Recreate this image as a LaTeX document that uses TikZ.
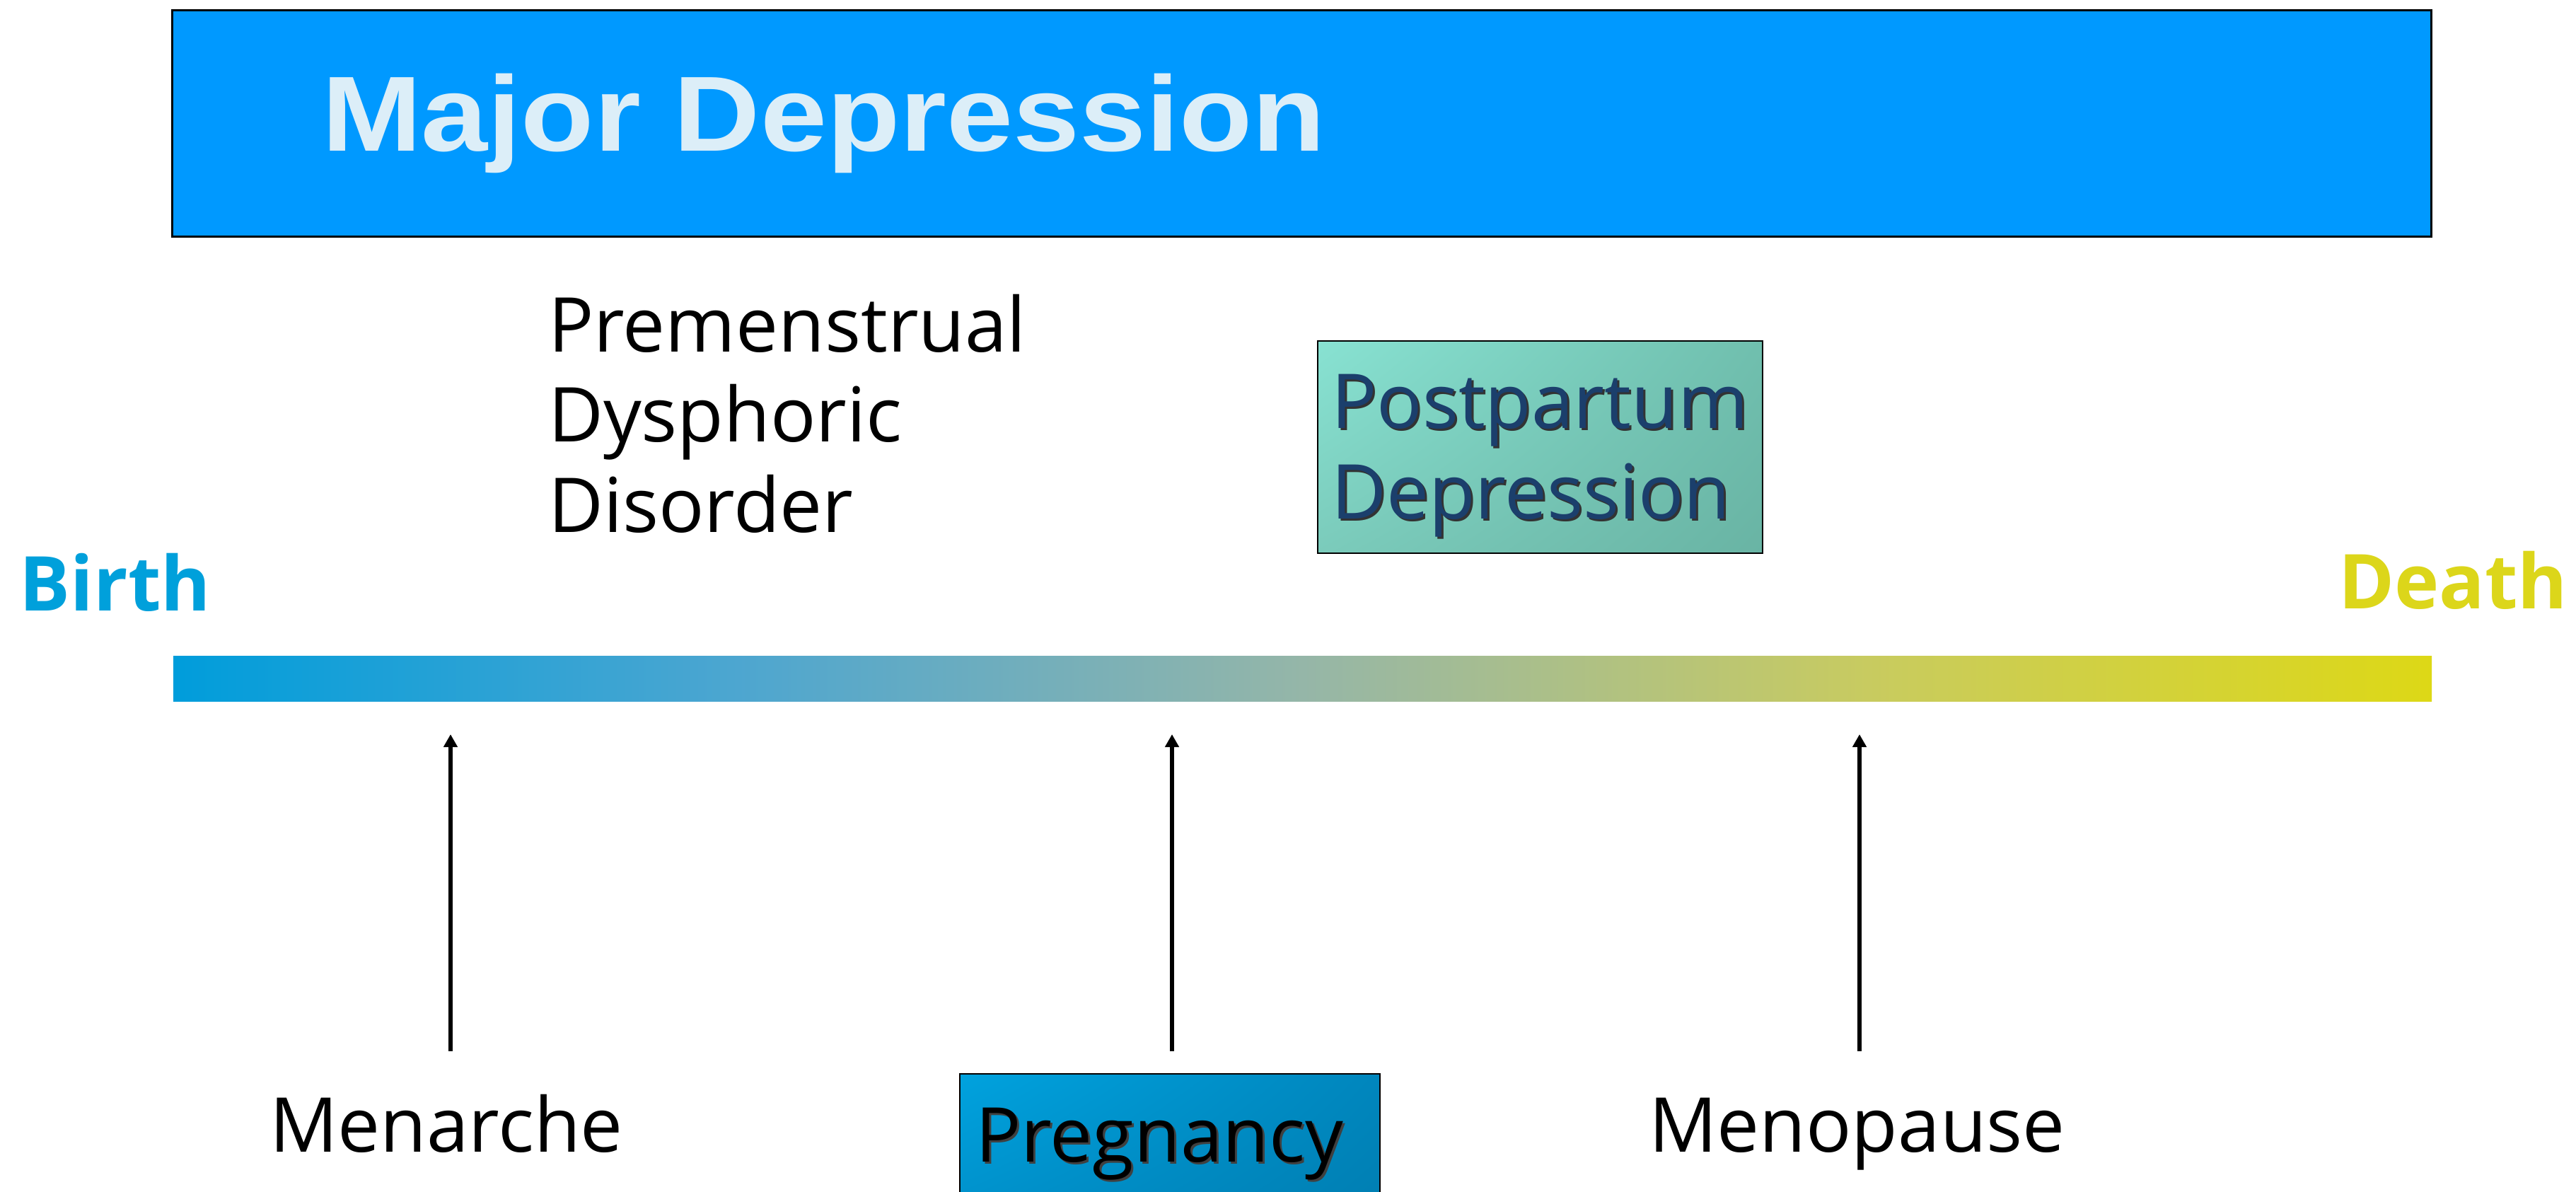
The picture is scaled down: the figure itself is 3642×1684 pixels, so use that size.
\documentclass[tikz,border=0pt]{standalone}
\usepackage{fontspec}
\setmainfont{Open Sans}
\newfontfamily\mdfont{Liberation Sans}[FakeStretch=1.12]
\usetikzlibrary{arrows.meta,shadings}
\definecolor{mdblue}{HTML}{0099FF}
\definecolor{mdtext}{HTML}{DCEEF8}
\definecolor{birthc}{HTML}{00A0DB}
\definecolor{deathc}{HTML}{DCD61A}
\definecolor{ppdtext}{HTML}{1B3F6C}
\definecolor{barA}{HTML}{009DDB}
\definecolor{barB}{HTML}{4DA6D0}
\definecolor{barC}{HTML}{95B6A8}
\definecolor{barD}{HTML}{C8CB60}
\definecolor{barE}{HTML}{DDD816}
\definecolor{ppdUL}{HTML}{88E2D2}
\definecolor{ppdUR}{HTML}{70BFAE}
\definecolor{ppdLL}{HTML}{7BCBBB}
\definecolor{ppdLR}{HTML}{69B4A4}
\definecolor{prgUL}{HTML}{00A2DE}
\definecolor{prgUR}{HTML}{0086BD}
\definecolor{prgLL}{HTML}{0092CC}
\definecolor{prgLR}{HTML}{007FB3}
\pgfdeclarehorizontalshading{lifebar}{100bp}{color(0bp)=(barA); color(25bp)=(barA); color(37.5bp)=(barB); color(50bp)=(barC); color(62.5bp)=(barD); color(75bp)=(barE); color(100bp)=(barE)}
\newcommand\shadowed[3]{\makebox[0pt][l]{\kern0.6pt\raisebox{-0.7pt}{\color{#2}#3}}{\color{#1}#3}}
\begin{document}
\begin{tikzpicture}[x=0.2pt,y=-0.2pt,
  every node/.style={inner sep=0pt, outer sep=0pt},
  plain/.style={font=\fontsize{21.4pt}{25.6pt}\selectfont, anchor=base west, align=left, text=black},
  endlabel/.style={font=\fontsize{21.4pt}{25pt}\selectfont\bfseries, anchor=base west},
  upar/.style={line width=1.25pt, -{Triangle[length=3.6pt,width=3.8pt]}},
  ]
\useasboundingbox (0,0) rectangle (3642,1684);
\fill[white] (0,0) rectangle (3642,1684);
\clip (0,0) rectangle (3642,1684);

% Major depression band
\node[draw=black, line width=0.6pt, fill=mdblue, minimum width=638.8pt, minimum height=64pt, anchor=north west] (mdbox) at (243,14) {};
\node[font=\mdfont\fontsize{30.2pt}{36pt}\selectfont\bfseries, text=mdtext, anchor=base west] (mdtitle) at (455,213) {Major Depression};

% PMDD (base anchor = last line)
\node[plain, font=\fontsize{21.4pt}{25.5pt}\selectfont] (pmdd) at (775,752) {Premenstrual\\Dysphoric\\Disorder};

% Postpartum depression
\node[draw=black, line width=0.45pt, upper left=ppdUL, upper right=ppdUR, lower left=ppdLL, lower right=ppdLR, minimum width=125.8pt, minimum height=60pt, anchor=north west] (ppdbox) at (1863,482) {};
\node[plain] (ppd) at (1882,733) {\shadowed{ppdtext}{black!80}{Postpartum}\\\shadowed{ppdtext}{black!80}{Depression}};

% Birth / Death
\node[endlabel, text=birthc] (birth) at (28,863) {Birth};
\node[endlabel, text=deathc] (death) at (3306,860) {Death};

% life bar
\node[shade, shading=lifebar, minimum width=638.6pt, minimum height=12.8pt, anchor=north west] (life) at (245,927) {};

% arrows
\coordinate (a1s) at (637,1486); \coordinate (a1e) at (637,1038);
\coordinate (a2s) at (1657,1486); \coordinate (a2e) at (1657,1038);
\coordinate (a3s) at (2629,1486); \coordinate (a3e) at (2629,1038);
\draw[upar] (a1s) -- (a1e);
\draw[upar] (a2s) -- (a2e);
\draw[upar] (a3s) -- (a3e);

% bottom labels
\node[plain] (menarche) at (381,1628) {Menarche};
\node[plain] (menopause) at (2331,1628) {Menopause};

\node[draw=black, line width=0.45pt, upper left=prgUL, upper right=prgUR, lower left=prgLL, lower right=prgLR, minimum width=118.8pt, minimum height=36.4pt, anchor=north west] (pregbox) at (1357,1518) {};
\node[plain] (preg) at (1379,1642) {\shadowed{black}{black!75}{Pregnancy}};
\end{tikzpicture}
\end{document}
